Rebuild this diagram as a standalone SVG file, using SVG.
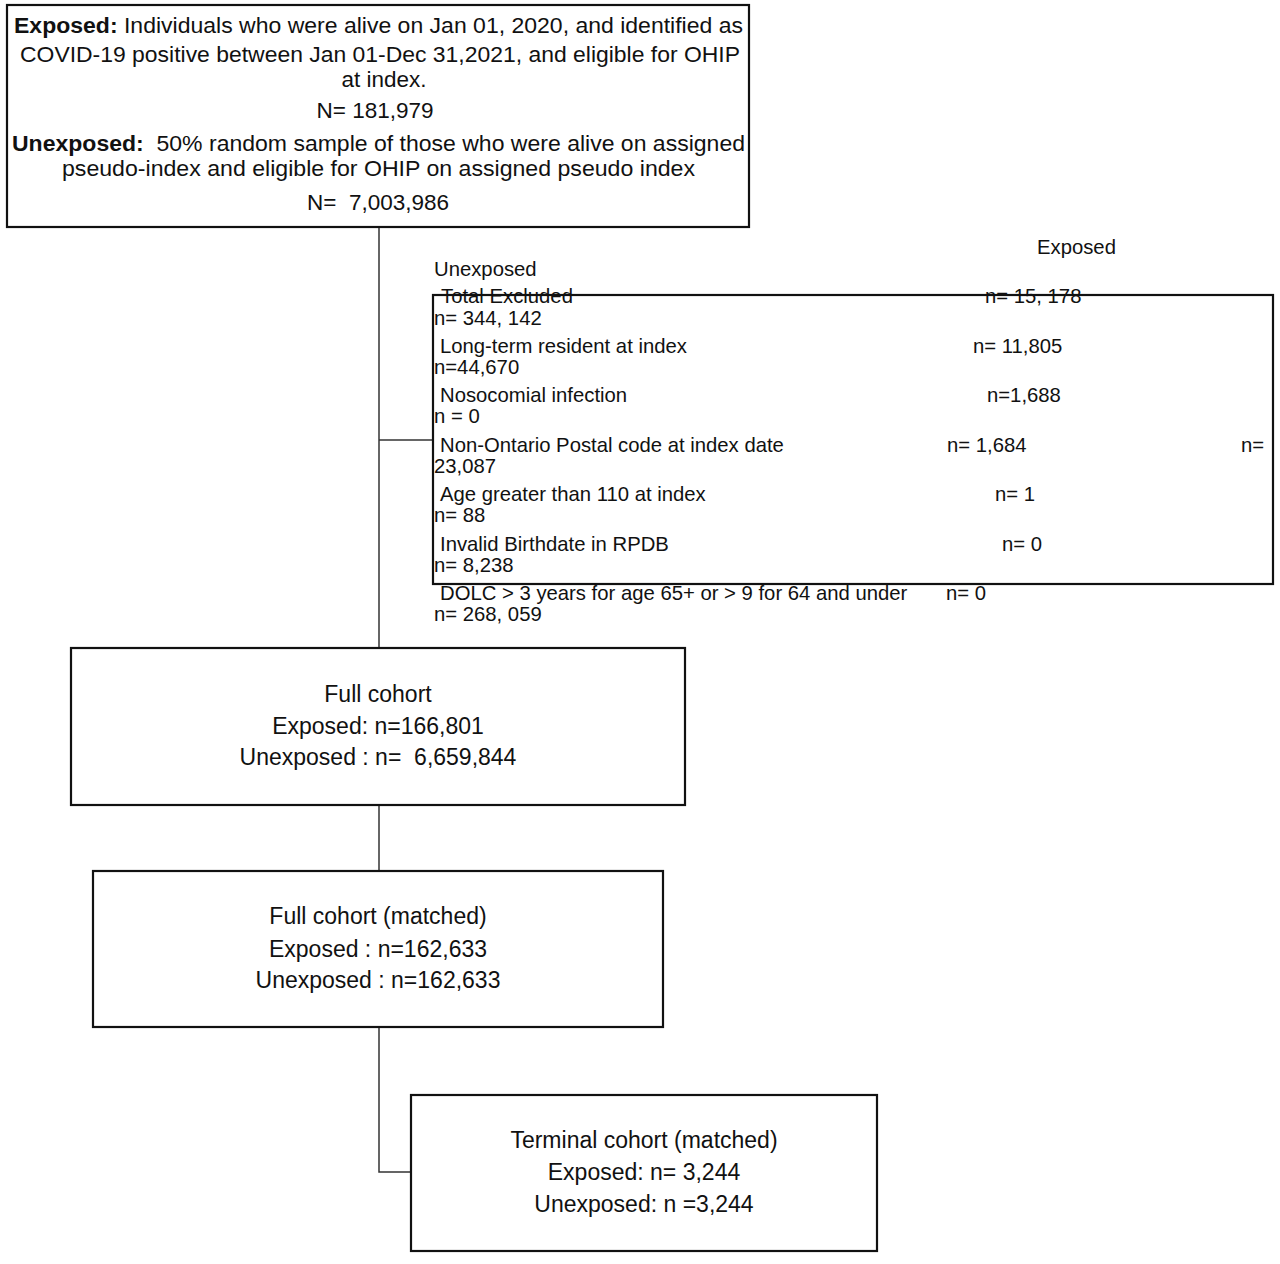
<svg xmlns="http://www.w3.org/2000/svg" width="1280" height="1264" viewBox="0 0 1280 1264">
<style>
.box{fill:#fff;stroke:#111;stroke-width:2.2}
.ln{fill:none;stroke:#333;stroke-width:1.5}
text{font-family:"Liberation Sans",Arial,sans-serif;fill:#111}
.t23{font-size:22.5px}
.t20{font-size:20.3px}
.t22{font-size:23px}
.c{text-anchor:middle}
.b{font-weight:bold}
</style>
<rect width="1280" height="1264" fill="#fff"/>
<g id="connectors">
<line class="ln" x1="379" y1="227" x2="379" y2="648"/>
<line class="ln" x1="379" y1="440" x2="433" y2="440"/>
<line class="ln" x1="379" y1="805" x2="379" y2="871"/>
<polyline class="ln" points="379,1027 379,1172 411,1172"/>
</g>
<g id="source">
<rect class="box" x="7" y="5" width="742" height="222"/>
<text class="t23" x="14" y="33" textLength="729" lengthAdjust="spacingAndGlyphs"><tspan class="b">Exposed:</tspan> Individuals who were alive on Jan 01, 2020, and identified as</text>
<text class="t23" x="20" y="62" textLength="720" lengthAdjust="spacingAndGlyphs">COVID-19 positive between Jan 01-Dec 31,2021, and eligible for OHIP</text>
<text class="t23 c" x="384" y="87">at index.</text>
<text class="t23 c" x="375" y="118">N= 181,979</text>
<text class="t23" x="12" y="151" textLength="733" lengthAdjust="spacingAndGlyphs" xml:space="preserve"><tspan class="b">Unexposed:</tspan>  50% random sample of those who were alive on assigned</text>
<text class="t23" x="62" y="176" textLength="633" lengthAdjust="spacingAndGlyphs">pseudo-index and eligible for OHIP on assigned pseudo index</text>
<text class="t23 c" x="378" y="210" xml:space="preserve">N=  7,003,986</text>
</g>
<g id="excluded">
<rect class="box" x="433" y="295" width="840" height="289" style="fill:none"/>
<text class="t20" x="1037" y="254">Exposed</text>
<text class="t20" x="434" y="276">Unexposed</text>
<text class="t20" x="441" y="303">Total Excluded</text>
<text class="t20" x="985" y="303">n= 15, 178</text>
<text class="t20" x="434" y="325">n= 344, 142</text>
<text class="t20" x="440" y="353">Long-term resident at index</text>
<text class="t20" x="973" y="353">n= 11,805</text>
<text class="t20" x="434" y="374">n=44,670</text>
<text class="t20" x="440" y="402">Nosocomial infection</text>
<text class="t20" x="987" y="402">n=1,688</text>
<text class="t20" x="434" y="423">n = 0</text>
<text class="t20" x="440" y="452">Non-Ontario Postal code at index date</text>
<text class="t20" x="947" y="452">n= 1,684</text>
<text class="t20" x="1241" y="452">n=</text>
<text class="t20" x="434" y="473">23,087</text>
<text class="t20" x="440" y="501">Age greater than 110 at index</text>
<text class="t20" x="995" y="501">n= 1</text>
<text class="t20" x="434" y="522">n= 88</text>
<text class="t20" x="440" y="551">Invalid Birthdate in RPDB</text>
<text class="t20" x="1002" y="551">n= 0</text>
<text class="t20" x="434" y="572">n= 8,238</text>
<text class="t20" x="440" y="600">DOLC &gt; 3 years for age 65+ or &gt; 9 for 64 and under</text>
<text class="t20" x="946" y="600">n= 0</text>
<text class="t20" x="434" y="621">n= 268, 059</text>
</g>
<g id="full">
<rect class="box" x="71" y="648" width="614" height="157"/>
<text class="t22 c" x="378" y="702">Full cohort</text>
<text class="t22 c" x="378" y="734">Exposed: n=166,801</text>
<text class="t22 c" x="378" y="765" xml:space="preserve">Unexposed : n=  6,659,844</text>
</g>
<g id="matched">
<rect class="box" x="93" y="871" width="570" height="156"/>
<text class="t22 c" x="378" y="924">Full cohort (matched)</text>
<text class="t22 c" x="378" y="957">Exposed : n=162,633</text>
<text class="t22 c" x="378" y="988">Unexposed : n=162,633</text>
</g>
<g id="terminal">
<rect class="box" x="411" y="1095" width="466" height="156"/>
<text class="t22 c" x="644" y="1148">Terminal cohort (matched)</text>
<text class="t22 c" x="644" y="1180">Exposed: n= 3,244</text>
<text class="t22 c" x="644" y="1212">Unexposed: n =3,244</text>
</g>
</svg>
